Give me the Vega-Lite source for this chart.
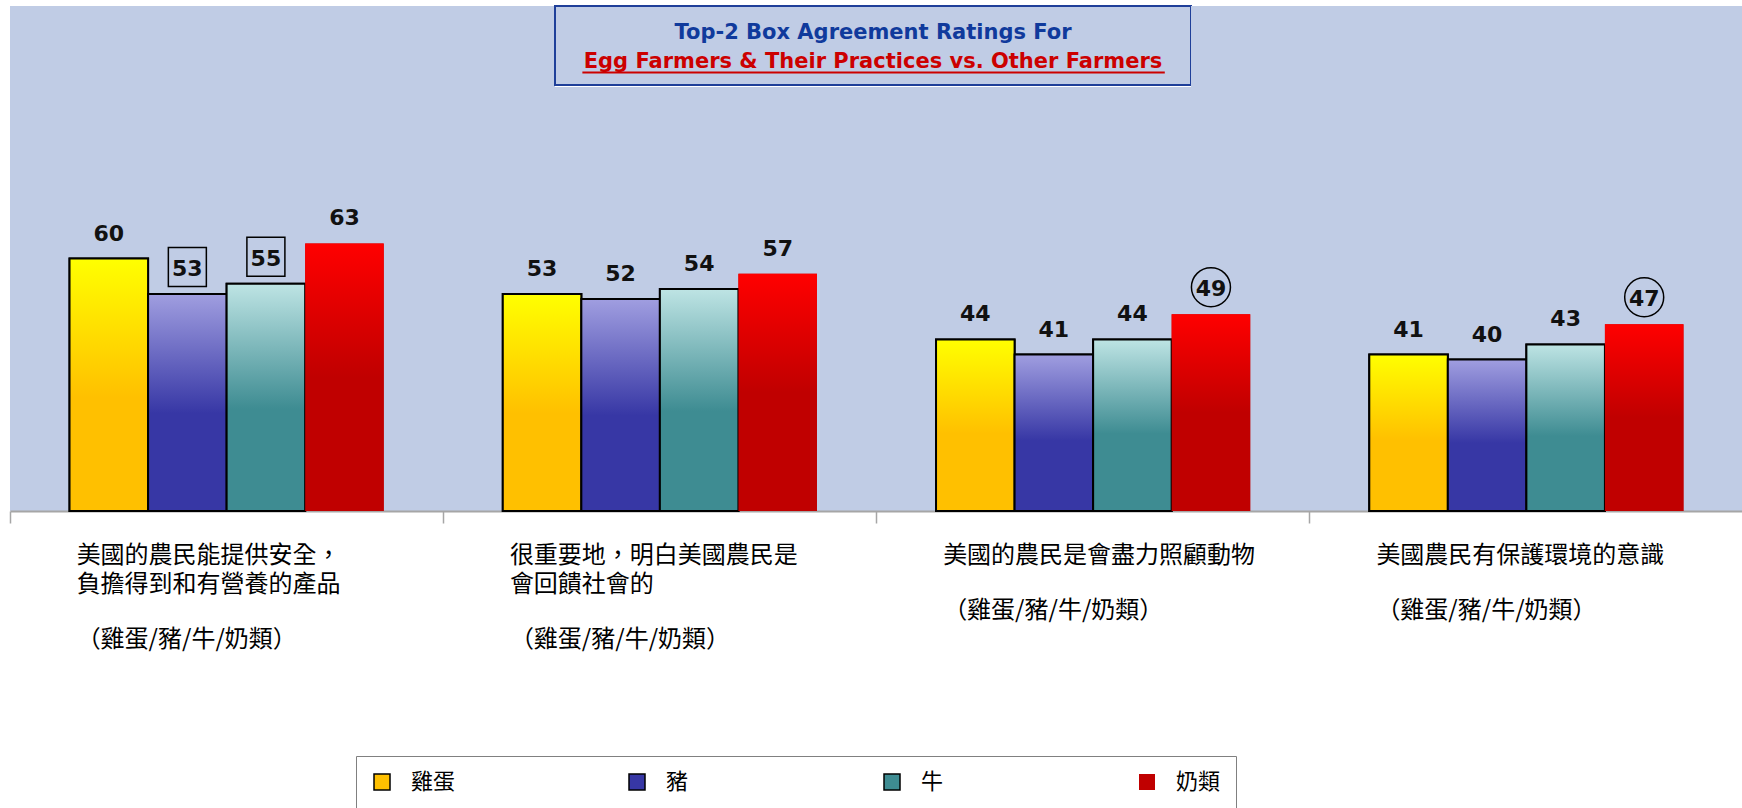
{
  "$schema": "https://vega.github.io/schema/vega-lite/v6.json",
  "background": "white",
  "padding": {"left": 9, "top": 5, "right": 0, "bottom": 0},
  "spacing": 0,
  "config": {"view": {"stroke": null}},
  "datasets": {
    "titles": [
      {"line": "Top-2 Box Agreement Ratings For", "order": 1},
      {"line": "Egg Farmers & Their Practices vs. Other Farmers", "order": 2}
    ],
    "bars": [
      {"statement": "美國的農民能提供安全，\n負擔得到和有營養的產品", "series": "雞蛋", "value": 60, "highlight": ""},
      {"statement": "美國的農民能提供安全，\n負擔得到和有營養的產品", "series": "豬", "value": 53, "highlight": "box"},
      {"statement": "美國的農民能提供安全，\n負擔得到和有營養的產品", "series": "牛", "value": 55, "highlight": "box"},
      {"statement": "美國的農民能提供安全，\n負擔得到和有營養的產品", "series": "奶類", "value": 63, "highlight": ""},
      {"statement": "很重要地，明白美國農民是\n會回饋社會的", "series": "雞蛋", "value": 53, "highlight": ""},
      {"statement": "很重要地，明白美國農民是\n會回饋社會的", "series": "豬", "value": 52, "highlight": ""},
      {"statement": "很重要地，明白美國農民是\n會回饋社會的", "series": "牛", "value": 54, "highlight": ""},
      {"statement": "很重要地，明白美國農民是\n會回饋社會的", "series": "奶類", "value": 57, "highlight": ""},
      {"statement": "美國的農民是會盡力照顧動物", "series": "雞蛋", "value": 44, "highlight": ""},
      {"statement": "美國的農民是會盡力照顧動物", "series": "豬", "value": 41, "highlight": ""},
      {"statement": "美國的農民是會盡力照顧動物", "series": "牛", "value": 44, "highlight": ""},
      {"statement": "美國的農民是會盡力照顧動物", "series": "奶類", "value": 49, "highlight": "circle"},
      {"statement": "美國農民有保護環境的意識", "series": "雞蛋", "value": 41, "highlight": ""},
      {"statement": "美國農民有保護環境的意識", "series": "豬", "value": 40, "highlight": ""},
      {"statement": "美國農民有保護環境的意識", "series": "牛", "value": 43, "highlight": ""},
      {"statement": "美國農民有保護環境的意識", "series": "奶類", "value": 47, "highlight": "circle"}
    ]
  },
  "vconcat": [
    {
      "spacing": 0,
      "bounds": "flush",
      "hconcat": [
        {
          "width": 545, "height": 81,
          "view": {"fill": "#C0CCE5", "stroke": null},
          "data": {"values": []},
          "mark": "rect"
        },
        {
          "width": 636, "height": 79,
          "view": {"fill": "#C0CCE5", "stroke": "#1F3F99", "strokeWidth": 2},
          "data": {"name": "titles"},
          "encoding": {
            "y": {"field": "order", "type": "ordinal", "scale": {"type": "point", "padding": 0.9}, "axis": null}
          },
          "layer": [
            {
              "mark": {"type": "text", "font": "DejaVu Sans", "fontWeight": "bold", "fontSize": 21, "baseline": "middle", "align": "center", "dy": 2},
              "encoding": {
                "text": {"field": "line"},
                "color": {"field": "order", "type": "ordinal", "scale": {"range": ["#103A9C", "#CC0000"]}, "legend": null}
              }
            },
            {
              "transform": [{"filter": "datum.order == 2"}],
              "mark": {"type": "rule", "color": "#CC0000", "strokeWidth": 2, "yOffset": 13},
              "encoding": {
                "x": {"datum": 0, "type": "quantitative", "scale": {"domain": [-0.047, 1.045], "nice": false, "zero": false}, "axis": null},
                "x2": {"datum": 1}
              }
            }
          ]
        },
        {
          "width": 552, "height": 81,
          "view": {"fill": "#C0CCE5", "stroke": null},
          "data": {"values": []},
          "mark": "rect"
        }
      ]
    },
    {
      "width": 1733,
      "height": 424,
      "view": {"fill": "#C0CCE5", "stroke": null},
      "data": {"name": "bars"},
      "encoding": {
        "x": {
          "field": "statement", "type": "nominal", "sort": null,
          "scale": {"paddingInner": 0, "paddingOuter": 0},
          "axis": {
            "title": null,
            "bandPosition": 0,
            "domainColor": "#A6A6A6", "domainWidth": 2,
            "tickColor": "#A6A6A6", "tickSize": 12, "tickWidth": 1.5,
            "labelAngle": 0,
            "labelAlign": "left", "labelBaseline": "top",
            "labelOffset": -150, "labelPadding": 20, "labelLimit": 500,
            "labelLineHeight": 29,
            "labelFont": "Noto Sans CJK TC", "labelFontSize": 24, "labelColor": "#000000",
            "labelOverlap": false, "labelBound": false, "labelFlush": false,
            "labelExpr": "split(datum.label, '\\n')"
          }
        },
        "y": {
          "field": "value", "type": "quantitative",
          "scale": {"domain": [10, 94], "zero": false, "nice": false},
          "axis": null
        }
      },
      "layer": [
        {
          "mark": {"type": "bar", "strokeWidth": 2},
          "encoding": {
            "xOffset": {"field": "series", "type": "nominal", "sort": ["雞蛋", "豬", "牛", "奶類"], "scale": {"paddingInner": 0, "paddingOuter": 0.758}},
            "y2": {"datum": 10},
            "fill": {
              "field": "series", "type": "nominal",
              "scale": {"domain": ["雞蛋", "豬", "牛", "奶類"], "range": ["#FFC000", "#3737A5", "#3E8C92", "#C00000"]},
              "legend": {
                "title": null, "orient": "none", "legendX": 346, "legendY": 750,
                "direction": "horizontal", "columns": 4, "gridAlign": "all", "columnPadding": 170,
                "symbolType": "square", "symbolSize": 256, "symbolStrokeWidth": 1.5,
                "labelOffset": 18, "labelFont": "Noto Sans CJK TC", "labelFontSize": 22, "labelColor": "#000000",
                "padding": 15, "strokeColor": "#808080", "fillColor": "#FFFFFF"
              }
            },
            "stroke": {
              "field": "series", "type": "nominal",
              "scale": {"domain": ["雞蛋", "豬", "牛", "奶類"], "range": ["#000000", "#000000", "#000000", "transparent"]},
              "legend": {
                "title": null, "orient": "none", "legendX": 346, "legendY": 750,
                "direction": "horizontal", "columns": 4, "gridAlign": "all", "columnPadding": 170,
                "symbolType": "square", "symbolSize": 256, "symbolStrokeWidth": 1.5,
                "labelOffset": 18, "labelFont": "Noto Sans CJK TC", "labelFontSize": 22, "labelColor": "#000000",
                "padding": 15, "strokeColor": "#808080", "fillColor": "#FFFFFF"
              }
            }
          }
        },
        {
          "transform": [{"filter": "datum.series == '雞蛋'"}],
          "mark": {"type": "bar", "stroke": "#000000", "strokeWidth": 2,
            "fill": {"gradient": "linear", "x1": 0, "y1": 0, "x2": 0, "y2": 1, "stops": [{"offset": 0, "color": "#FFFF00"}, {"offset": 0.55, "color": "#FFC000"}, {"offset": 1, "color": "#FFC000"}]}},
          "encoding": {"xOffset": {"field": "series", "type": "nominal", "sort": ["雞蛋", "豬", "牛", "奶類"]}, "y2": {"datum": 10}}
        },
        {
          "transform": [{"filter": "datum.series == '豬'"}],
          "mark": {"type": "bar", "stroke": "#000000", "strokeWidth": 2,
            "fill": {"gradient": "linear", "x1": 0, "y1": 0, "x2": 0, "y2": 1, "stops": [{"offset": 0, "color": "#A09EE0"}, {"offset": 0.55, "color": "#3737A5"}, {"offset": 1, "color": "#3737A5"}]}},
          "encoding": {"xOffset": {"field": "series", "type": "nominal", "sort": ["雞蛋", "豬", "牛", "奶類"]}, "y2": {"datum": 10}}
        },
        {
          "transform": [{"filter": "datum.series == '牛'"}],
          "mark": {"type": "bar", "stroke": "#000000", "strokeWidth": 2,
            "fill": {"gradient": "linear", "x1": 0, "y1": 0, "x2": 0, "y2": 1, "stops": [{"offset": 0, "color": "#BEE4E4"}, {"offset": 0.55, "color": "#3E8C92"}, {"offset": 1, "color": "#3E8C92"}]}},
          "encoding": {"xOffset": {"field": "series", "type": "nominal", "sort": ["雞蛋", "豬", "牛", "奶類"]}, "y2": {"datum": 10}}
        },
        {
          "transform": [{"filter": "datum.series == '奶類'"}],
          "mark": {"type": "bar", "strokeWidth": 0,
            "fill": {"gradient": "linear", "x1": 0, "y1": 0, "x2": 0, "y2": 1, "stops": [{"offset": 0, "color": "#FF0000"}, {"offset": 0.5, "color": "#C00000"}, {"offset": 1, "color": "#C00000"}]}},
          "encoding": {"xOffset": {"field": "series", "type": "nominal", "sort": ["雞蛋", "豬", "牛", "奶類"]}, "y2": {"datum": 10}}
        },
        {
          "mark": {"type": "text", "dy": -25, "baseline": "middle", "align": "center", "font": "DejaVu Sans", "fontWeight": "bold", "fontSize": 22, "color": "#111111"},
          "encoding": {"xOffset": {"field": "series", "type": "nominal", "sort": ["雞蛋", "豬", "牛", "奶類"]}, "text": {"field": "value", "type": "quantitative"}}
        },
        {
          "transform": [{"filter": "datum.highlight == 'box'"}],
          "mark": {"type": "point", "shape": "M -0.95 -2.325 L 0.95 -2.325 L 0.95 -0.375 L -0.95 -0.375 Z", "size": 1600, "filled": false, "color": "#000000", "strokeWidth": 1.5, "opacity": 1},
          "encoding": {"xOffset": {"field": "series", "type": "nominal", "sort": ["雞蛋", "豬", "牛", "奶類"]}}
        },
        {
          "transform": [{"filter": "datum.highlight == 'circle'"}],
          "mark": {"type": "point", "shape": "M -0.975 -1.35 A 0.975 0.975 0 1 0 0.975 -1.35 A 0.975 0.975 0 1 0 -0.975 -1.35 Z", "size": 1600, "filled": false, "color": "#000000", "strokeWidth": 1.5, "opacity": 1},
          "encoding": {"xOffset": {"field": "series", "type": "nominal", "sort": ["雞蛋", "豬", "牛", "奶類"]}}
        },
        {
          "transform": [{"filter": "datum.series == '雞蛋' && indexof(datum.statement, '\\n') >= 0"}],
          "mark": {"type": "text", "align": "left", "baseline": "middle", "dx": -150, "dy": 129, "font": "Noto Sans CJK TC", "fontSize": 24, "color": "#000000"},
          "encoding": {"y": {"datum": 10}, "text": {"value": "（雞蛋/豬/牛/奶類）"}}
        },
        {
          "transform": [{"filter": "datum.series == '雞蛋' && indexof(datum.statement, '\\n') < 0"}],
          "mark": {"type": "text", "align": "left", "baseline": "middle", "dx": -150, "dy": 100, "font": "Noto Sans CJK TC", "fontSize": 24, "color": "#000000"},
          "encoding": {"y": {"datum": 10}, "text": {"value": "（雞蛋/豬/牛/奶類）"}}
        }
      ]
    }
  ]
}
